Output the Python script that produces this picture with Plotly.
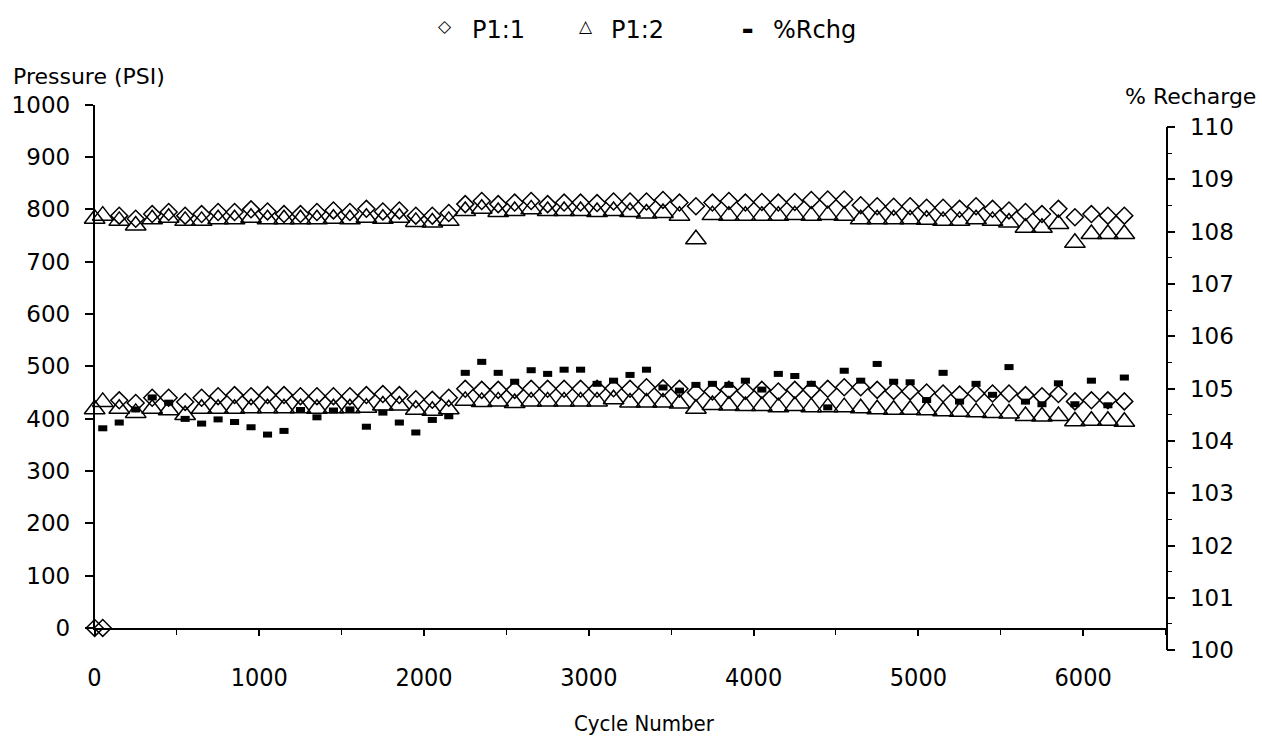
import plotly.graph_objects as go

# ---------------- data ----------------
cycles = [1, 50, 150, 250, 350, 450, 550, 650, 750, 850, 950, 1050, 1150, 1250, 1350,
          1450, 1550, 1650, 1750, 1850, 1950, 2050, 2150, 2250, 2350, 2450, 2550, 2650,
          2750, 2850, 2950, 3050, 3150, 3250, 3350, 3450, 3550, 3650, 3750, 3850, 3950,
          4050, 4150, 4250, 4350, 4450, 4550, 4650, 4750, 4850, 4950, 5050, 5150, 5250,
          5350, 5450, 5550, 5650, 5750, 5850, 5950, 6050, 6150, 6250]

p11_high = [0, 0, 788, 782, 791, 795, 788, 791, 795, 795, 800, 796, 791, 791, 795, 798,
            795, 801, 796, 798, 788, 788, 793, 810, 816, 810, 813, 816, 810, 813, 813,
            812, 815, 815, 815, 818, 813, 806, 813, 816, 813, 814, 813, 814, 818, 819,
            819, 808, 806, 805, 806, 803, 803, 801, 806, 801, 798, 795, 791, 801, 785,
            791, 788, 788]
p11_low = [None, None, 435, 430, 440, 440, 432, 440, 443, 445, 443, 445, 445, 443, 443,
           443, 443, 445, 447, 445, 437, 436, 440, 457, 455, 455, 455, 457, 457, 457,
           457, 457, 458, 457, 460, 458, 457, 450, 452, 455, 453, 455, 452, 455, 455,
           457, 460, 460, 455, 453, 452, 450, 448, 446, 448, 448, 448, 445, 443, 447,
           433, 435, 435, 433]
p12_high = [782, 788, 778, 769, 781, 784, 778, 778, 781, 781, 784, 781, 781, 781, 781,
            782, 781, 784, 782, 784, 776, 775, 778, 797, 801, 795, 797, 800, 797, 797,
            797, 795, 797, 795, 792, 793, 788, 743, 789, 788, 788, 788, 788, 789, 788,
            789, 788, 781, 781, 781, 781, 780, 778, 778, 781, 778, 775, 765, 765, 772,
            736, 753, 753, 753]
p12_low = [418, 432, 419, 411, 419, 416, 407, 419, 419, 419, 420, 420, 420, 420, 419,
           420, 420, 421, 425, 425, 417, 415, 418, 434, 432, 433, 430, 433, 433, 433,
           433, 433, 437, 431, 431, 431, 429, 419, 426, 425, 424, 424, 422, 424, 422,
           422, 422, 420, 418, 417, 417, 416, 414, 413, 412, 411, 410, 405, 404, 405,
           395, 396, 396, 394]

rchg_cycles = cycles[1:]
rchg = [104.24, 104.35, 104.60, 104.83, 104.73, 104.42, 104.33, 104.41, 104.36, 104.26,
        104.12, 104.19, 104.59, 104.45, 104.58, 104.60, 104.27, 104.54, 104.35, 104.16,
        104.40, 104.47, 105.30, 105.51, 105.30, 105.13, 105.35, 105.28, 105.36, 105.36,
        105.09, 105.15, 105.26, 105.36, 105.02, 104.96, 105.07, 105.09, 105.07, 105.15,
        104.98, 105.28, 105.24, 105.09, 104.64, 105.34, 105.15, 105.47, 105.13, 105.12,
        104.78, 105.30, 104.75, 105.09, 104.88, 105.41, 104.75, 104.70, 105.10, 104.70,
        105.15, 104.68, 105.21]

x_ticks = [0, 1000, 2000, 3000, 4000, 5000, 6000]
left_ticks = [0, 100, 200, 300, 400, 500, 600, 700, 800, 900, 1000]
right_ticks = [100, 101, 102, 103, 104, 105, 106, 107, 108, 109, 110]

series_names = ["P1:1", "P1:2", "%Rchg"]
legend_glyphs = ["\u25C7", "\u25B3", "\u25AC"]

# ---------------- layout geometry ----------------
W, H = 1262, 751
def px_x(p):
    return p / W
def px_y(p):
    return 1 - p / H

dom_x = [px_x(88), px_x(1165)]
dom_y = [px_y(637), px_y(95)]
dom_y2 = [px_y(660), px_y(118)]

FONT = "DejaVu Sans, Liberation Sans, Arial, sans-serif"
COND = "DejaVu Sans Condensed, Liberation Sans Narrow, Arial Narrow, DejaVu Sans, sans-serif"

fig = go.Figure()

fig.add_trace(go.Scatter(
    x=cycles + cycles, y=p11_high + p11_low, mode="markers", name=series_names[0],
    marker=dict(symbol="diamond-open", size=13, color="black", line=dict(width=1.5, color="black")),
    cliponaxis=False, xaxis="x", yaxis="y"))

fig.add_trace(go.Scatter(
    x=cycles + cycles, y=p12_high + p12_low, mode="markers", name=series_names[1],
    marker=dict(symbol="triangle-up-open", size=18, color="black", line=dict(width=1.5, color="black")),
    cliponaxis=False, xaxis="x", yaxis="y"))

fig.add_trace(go.Scatter(
    x=rchg_cycles, y=rchg, mode="markers", name=series_names[2],
    marker=dict(symbol="line-ew", size=6.5, color="black", line=dict(width=6, color="black")),
    cliponaxis=False, xaxis="x2", yaxis="y2"))

axis_common = dict(showgrid=False, zeroline=False, linecolor="black", linewidth=1.5,
                   tickcolor="black", tickwidth=1.5)

# legend drawn as text (placed above the plot like the original)
legend_ann = []
sym_x = [440, 582, 745]
txt_x = [466, 605, 768]
sym_y = [13, 13, 18]
sym_size = [17, 17, 12]
for name, glyph, sx, tx, sy, ss in zip(series_names, legend_glyphs, sym_x, txt_x, sym_y, sym_size):
    legend_ann.append(dict(text=glyph, x=px_x(sx), y=px_y(sy), xref="paper", yref="paper",
                           xanchor="center", yanchor="middle", showarrow=False,
                           font=dict(family=FONT, size=ss, color="black")))
    legend_ann.append(dict(text=name, x=px_x(tx), y=px_y(18), xref="paper", yref="paper",
                           xanchor="left", yanchor="middle", showarrow=False,
                           font=dict(family=FONT, size=24, color="black")))

fig.update_layout(
    width=W, height=H, margin=dict(l=0, r=0, t=0, b=0),
    paper_bgcolor="white", plot_bgcolor="rgba(0,0,0,0)",
    showlegend=False,
    xaxis=dict(domain=dom_x, range=[0, 6500], anchor="y", showline=True,
               tickmode="array", tickvals=x_ticks, ticktext=[str(v) for v in x_ticks],
               ticks="outside", ticklen=6, ticklabelstandoff=20,
               minor=dict(tickmode="linear", tick0=0, dtick=500, ticks="outside", ticklen=5,
                          tickcolor="black", tickwidth=1.2),
               tickfont=dict(family=COND, size=25, color="black"), **axis_common),
    xaxis3=dict(domain=dom_x, matches="x", overlaying="x", anchor="y", showline=False,
                tickmode="array", tickvals=x_ticks, ticks="inside", ticklen=6,
                showticklabels=False, **axis_common),
    xaxis2=dict(domain=dom_x, matches="x", anchor="y2", visible=False),
    yaxis=dict(domain=dom_y, range=[0, 1000], anchor="x", showline=True,
               tickmode="array", tickvals=left_ticks, ticktext=[str(v) for v in left_ticks],
               ticks="outside", ticklen=8, ticklabelstandoff=10,
               tickfont=dict(family=FONT, size=23, color="black"), **axis_common),
    yaxis3=dict(domain=dom_y, matches="y", overlaying="y", anchor="x", side="left",
                showline=False, tickmode="array", tickvals=left_ticks, ticks="inside",
                ticklen=8, showticklabels=False, **axis_common),
    yaxis2=dict(domain=dom_y2, range=[100, 110], anchor="x2", side="right", showline=True,
                tickmode="array", tickvals=right_ticks, ticktext=[str(v) for v in right_ticks],
                ticks="outside", ticklen=8, ticklabelstandoff=10,
                minor=dict(tickmode="linear", tick0=100, dtick=0.5, ticks="outside", ticklen=5,
                           tickcolor="black", tickwidth=1.2),
                tickfont=dict(family=FONT, size=23, color="black"), **axis_common),
    yaxis4=dict(domain=dom_y2, matches="y2", overlaying="y2", anchor="x2", side="right",
                showline=False, tickmode="array", tickvals=right_ticks, ticks="inside",
                ticklen=8, showticklabels=False,
                minor=dict(tickmode="linear", tick0=100, dtick=0.5, ticks="inside", ticklen=5,
                           tickcolor="black", tickwidth=1.2),
                **axis_common),
    annotations=legend_ann + [
        dict(text="Pressure (PSI)", x=px_x(4), y=px_y(66), xref="paper", yref="paper",
             xanchor="left", yanchor="middle", showarrow=False,
             font=dict(family=FONT, size=22, color="black")),
        dict(text="% Recharge", x=px_x(1258), y=px_y(87), xref="paper", yref="paper",
             xanchor="right", yanchor="middle", showarrow=False,
             font=dict(family=FONT, size=22, color="black")),
        dict(text="Cycle Number", x=px_x(641), y=px_y(736), xref="paper", yref="paper",
             xanchor="center", yanchor="middle", showarrow=False,
             font=dict(family=COND, size=22, color="black")),
    ],
)

fig.write_html("out.html")
